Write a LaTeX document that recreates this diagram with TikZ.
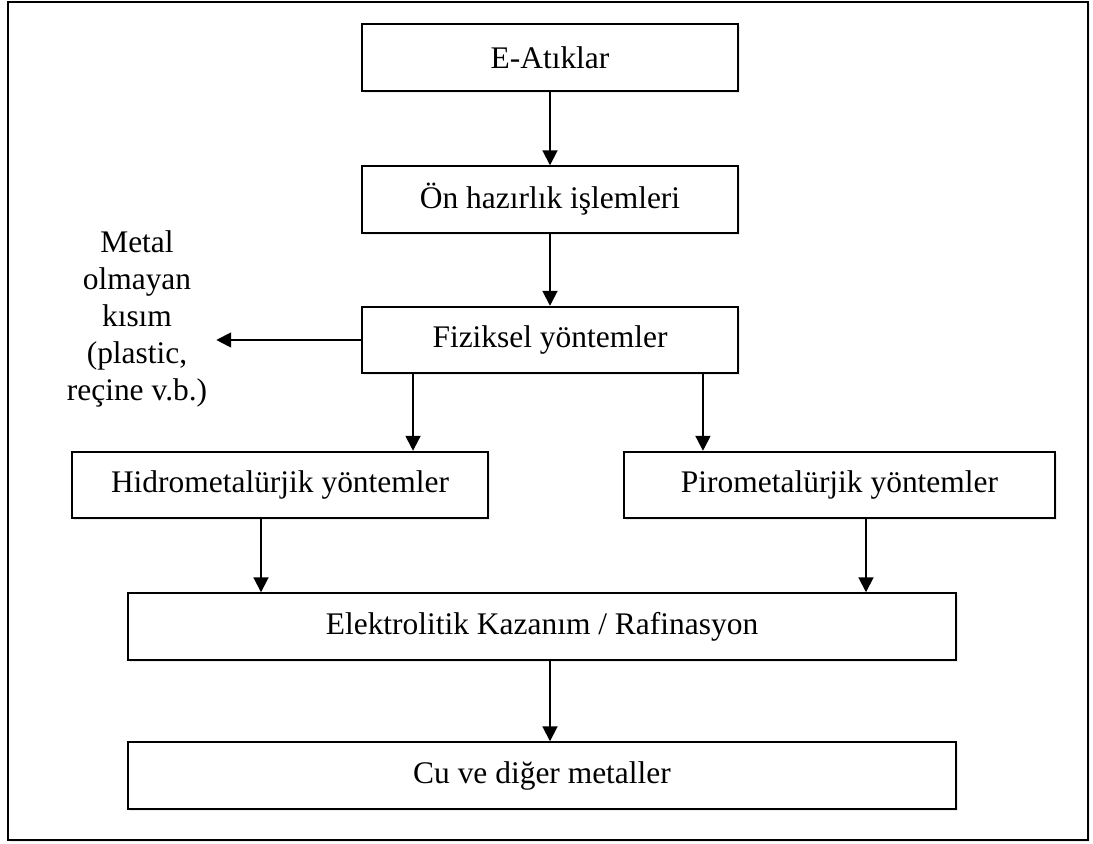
\documentclass[tikz,border=0pt]{standalone}
\usepackage{fontspec}
\setmainfont{Liberation Serif}
\usepackage{tikz}
\usetikzlibrary{arrows.meta,shadows}
\tikzset{
  ar/.style={-{Triangle[length=8.5pt,width=8.5pt]},line width=1.1pt,black},
  box/.style={draw=black,line width=1.1pt,fill=white,align=center,inner sep=0pt,minimum height=1.33cm,
    drop shadow={shadow xshift=1.2pt,shadow yshift=-1.2pt,opacity=0.15}},
  txt/.style={align=center,inner sep=5pt}
}

\begin{document}
\begin{tikzpicture}[x=0.02cm,y=0.02cm,font=\fontsize{17.9}{21}\selectfont]
\useasboundingbox (0,0) rectangle (1093,844);
\draw[line width=1.1pt,fill=white,drop shadow={shadow xshift=1.2pt,shadow yshift=-1.2pt,opacity=0.15}] (8,4) rectangle (1088,842);
% main column
\node[box,minimum width=7.52cm] (atik) at (550,786.5) {E-Atıklar};
\node[box,minimum width=7.52cm] (onhaz) at (550,644.5) {Ön hazırlık işlemleri};
\node[box,minimum width=7.52cm] (fizik) at (550,504) {Fiziksel yöntemler};
\node[txt] (metal) at (137,525) {Metal\\olmayan\\kısım\\(plastic,\\reçine v.b.)};
\node[box,minimum width=8.32cm] (hidro) at (280,359) {Hidrometalürjik yöntemler};
\node[box,minimum width=8.62cm] (piro) at (839.5,359) {Pirometalürjik yöntemler};
\node[box,minimum width=16.56cm] (elek) at (542,217.5) {Elektrolitik Kazanım / Rafinasyon};
\node[box,minimum width=16.56cm] (cu) at (542,68.5) {Cu ve diğer metaller};
% arrows
\draw[ar] (atik) -- (onhaz);
\draw[ar] (onhaz) -- (fizik);
\draw[ar] (fizik.west) -- (fizik.west -| metal.east);
\draw[ar] ([xshift=-2.74cm]fizik.south) -- ([xshift=-2.74cm]fizik.south |- hidro.north);
\draw[ar] ([xshift=3.06cm]fizik.south) -- ([xshift=3.06cm]fizik.south |- piro.north);
\draw[ar] ([xshift=-0.38cm]hidro.south) -- ([xshift=-0.38cm]hidro.south |- elek.north);
\draw[ar] ([xshift=0.53cm]piro.south) -- ([xshift=0.53cm]piro.south |- elek.north);
\draw[ar] ([xshift=0.16cm]elek.south) -- ([xshift=0.16cm]elek.south |- cu.north);
\end{tikzpicture}
\end{document}
